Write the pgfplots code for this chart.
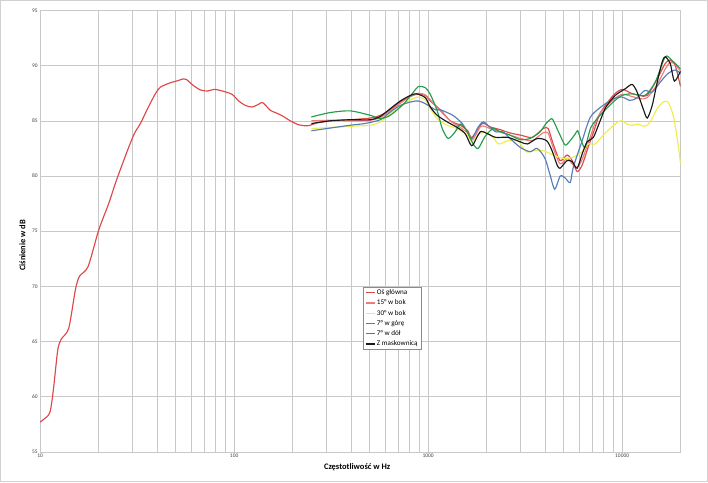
\documentclass[border=0pt]{standalone}
\usepackage{pgfplots}
\pgfplotsset{compat=1.18}
\usepackage{fontspec}
\setmainfont{Carlito}
\definecolor{cRed}{RGB}{222,72,72}
\definecolor{cPink}{RGB}{236,125,125}
\definecolor{cYel}{RGB}{240,236,80}
\definecolor{cBlue}{RGB}{85,125,185}
\definecolor{cGreen}{RGB}{40,155,75}
\definecolor{cBlack}{RGB}{25,25,25}
\definecolor{cGrid}{RGB}{200,200,200}
\begin{document}
\begin{tikzpicture}
\begin{axis}[
  scale only axis,
  width=641.3bp, height=442bp,
  xmode=log, log basis x=10,
  xmin=10, xmax=20000, ymin=55, ymax=95,
  xtick={10,100,1000,10000},
  xticklabels={10,100,1000,10000},
  ytick={55,60,65,70,75,80,85,90,95},
  minor xtick={20,30,40,50,60,70,80,90,200,300,400,500,600,700,800,900,2000,3000,4000,5000,6000,7000,8000,9000,20000},
  xmajorgrids, xminorgrids, ymajorgrids,
  grid style={cGrid, line width=0.6bp},
  minor grid style={cGrid, line width=0.6bp},
  axis line style={cGrid, line width=0.6bp},
  tick style={draw=none},
  /pgf/number format/assume math mode=true,
  tick label style={font=\fontsize{5.5}{6}\selectfont, text=black!75},
  xticklabel style={yshift=1bp},
  yticklabel style={xshift=1bp},
  xlabel={Częstotliwość w Hz},
  ylabel={Ciśnienie w dB},
  every axis x label/.style={at={(rel axis cs:0.495,-0.034)}, anchor=center, font=\fontsize{8.5}{10}\selectfont\bfseries},
  every axis y label/.style={at={(rel axis cs:-0.0276,0.468)}, rotate=90, anchor=center, font=\fontsize{8.5}{10}\selectfont\bfseries},
  legend style={at={(rel axis cs:0.504,0.373)}, anchor=north west, draw=black!45, line width=0.5bp, fill=white,
    font=\fontsize{7.2}{8}\selectfont, inner xsep=2bp, inner ysep=1.5bp, row sep=2.6bp,
    nodes={inner xsep=1.5bp, inner ysep=0.6bp}},
  legend cell align=left,
  legend image code/.code={\draw[#1, line width=1.3bp] (0bp,0bp) -- (9bp,0bp);},
  every axis plot/.append style={line width=1.15bp, smooth, tension=0.45},
]
\coordinate (BL) at (rel axis cs:-0.0619,-0.0679);
\coordinate (TR) at (rel axis cs:1.0421,1.0226);
% Os glowna
\addplot[cRed] coordinates {(10,57.7)(11.07,58.35)(11.39,59.1)(11.75,60.9)(12.32,64.2)(12.83,65.2)(14.04,66.2)(15.2,69.7)(15.94,70.9)(17.67,71.8)(20.04,75.1)(22.56,77.5)(24.72,79.6)(28.18,82.3)(30.6,83.85)(32.86,84.75)(36.14,86.25)(39.26,87.45)(41.67,88.05)(46.92,88.45)(50.38,88.6)(54.74,88.8)(56.72,88.75)(61.64,88.2)(66.97,87.8)(72.76,87.7)(79.07,87.85)(86.96,87.7)(97.5,87.4)(105.5,86.8)(114.2,86.4)(123.7,86.25)(133.7,86.5)(140.3,86.65)(153.7,85.95)(163,85.75)(177.1,85.45)(194.7,85.0)(214.1,84.65)(232.7,84.55)(247,84.6)(265.2,84.8)(313,85.0)(353,85.05)(397,85.1)(503,85.25)(567,85.5)(638,86.0)(719,86.7)(809,87.2)(890,87.45)(967,87.3)(1026,86.8)(1155,86.0)(1300,85.0)(1463,84.6)(1600,84.1)(1680,83.5)(1900,84.75)(2088,84.45)(2350,84.2)(2646,83.9)(3000,83.7)(3440,83.5)(3917,84.3)(4155,84.3)(4412,82.9)(4786,81.4)(5207,81.9)(5526,81.4)(5864,80.4)(6222,81.0)(6680,82.6)(7259,84.4)(7703,85.7)(8990,87.3)(10000,87.85)(11270,87.45)(12400,87.3)(13470,87.3)(15160,88.8)(16680,90.2)(17690,90.5)(18780,90.0)(20000,88.1)};
\addlegendentry{Oś główna}
% 15 w bok
\addplot[cPink] coordinates {(250,85.0)(313,85.05)(397,85.0)(503,85.05)(567,85.3)(638,85.9)(719,86.6)(809,87.2)(890,87.5)(967,87.35)(1026,86.9)(1155,85.9)(1300,85.0)(1463,84.4)(1600,83.9)(1700,83.3)(1870,84.5)(2088,84.3)(2350,84.0)(2646,83.7)(3000,83.4)(3440,83.2)(3900,83.9)(4150,83.9)(4400,82.6)(4786,81.1)(5207,81.6)(5526,81.1)(5864,80.8)(6222,81.5)(6680,83.0)(7259,84.8)(7703,85.7)(8990,86.9)(10000,87.4)(11270,87.2)(12400,87.0)(13470,87.1)(15160,88.3)(16680,89.7)(17690,90.3)(18780,90.1)(20000,89.5)};
\addlegendentry{15° w bok}
% 30 w bok
\addplot[cYel] coordinates {(250,84.3)(397,84.5)(503,84.6)(567,84.9)(638,85.65)(719,86.25)(809,86.9)(890,87.15)(967,86.9)(1026,86.1)(1113,85.2)(1254,84.6)(1412,84.3)(1590,83.7)(1683,83.1)(1806,83.7)(1962,84.0)(2157,83.5)(2314,82.9)(2575,83.2)(2904,83.2)(3196,82.2)(3510,82.3)(3917,82.3)(4412,81.9)(4965,81.6)(5595,81.7)(6222,82.2)(6680,82.9)(7259,82.9)(7986,83.7)(8660,84.3)(9520,84.9)(10000,85.0)(10730,84.65)(11400,84.6)(12080,84.7)(13100,84.5)(13940,84.9)(15160,86.1)(16280,86.7)(17250,86.7)(18320,85.5)(19230,83.4)(20000,81.1)};
\addlegendentry{30° w bok}
% 7 w gore
\addplot[cBlue] coordinates {(250,84.1)(397,84.6)(470,84.75)(567,85.1)(638,85.8)(719,86.4)(809,86.7)(890,86.8)(967,86.55)(1090,86.0)(1155,86.0)(1340,85.5)(1500,84.75)(1590,84.0)(1683,83.4)(1806,84.4)(1925,84.9)(2088,84.4)(2230,84.0)(2430,84.0)(2646,83.4)(2979,82.6)(3354,82.2)(3650,82.5)(4000,81.6)(4250,80.1)(4490,78.8)(4800,80.0)(5100,79.8)(5400,79.4)(5600,80.8)(6222,83.2)(6840,85.3)(7703,86.2)(8990,87.0)(10000,87.15)(10960,86.85)(11880,87.05)(13100,87.75)(14280,87.6)(15710,88.5)(17250,89.3)(18780,89.6)(20000,89.3)};
\addlegendentry{7° w górę}
% 7 w dol
\addplot[cGreen] coordinates {(250,85.35)(313,85.75)(397,85.9)(503,85.5)(567,85.2)(638,85.5)(750,86.56)(840,87.6)(890,88.1)(967,88.0)(1026,87.4)(1114,85.9)(1182,84.3)(1268,83.4)(1378,84.0)(1462,84.7)(1570,84.2)(1706,82.9)(1811,82.5)(1968,83.6)(2163,84.3)(2350,84.0)(2646,83.7)(2979,83.3)(3354,83.4)(3776,84.0)(4050,84.75)(4330,85.2)(4450,84.9)(4786,83.7)(5082,82.8)(5395,83.2)(5728,83.8)(5900,84.1)(6150,83.2)(6442,82.6)(6900,84.4)(7703,85.5)(8990,86.7)(10000,87.3)(11270,87.45)(13100,87.3)(14800,88.5)(16680,90.8)(18000,90.5)(20000,89.7)};
\addlegendentry{7° w dół}
% Z maskownica
\addplot[cBlack] coordinates {(250,84.75)(313,85.0)(397,85.1)(503,85.1)(567,85.4)(638,86.1)(719,86.8)(809,87.3)(870,87.45)(967,87.1)(1026,86.25)(1113,85.5)(1254,84.9)(1412,84.4)(1550,83.85)(1648,82.9)(1700,82.8)(1855,84.0)(2010,83.85)(2230,83.5)(2575,83.5)(2979,83.1)(3250,82.9)(3650,83.4)(4080,83.2)(4350,82.3)(4620,81.0)(4786,80.7)(5207,81.4)(5526,81.3)(5864,80.7)(6222,82.0)(6600,83.1)(7110,83.5)(7703,85.0)(8250,86.25)(9209,87.3)(10360,87.9)(11260,88.3)(11950,87.6)(12830,86.1)(13470,85.25)(14290,86.4)(15160,88.5)(16090,90.35)(16680,90.8)(17690,90.2)(18600,88.6)(20000,89.5)};
\addlegendentry{Z maskownicą}
\end{axis}
\pgfresetboundingbox
\draw[black!18, line width=1bp] (BL) rectangle (TR);
\end{tikzpicture}
\end{document}
